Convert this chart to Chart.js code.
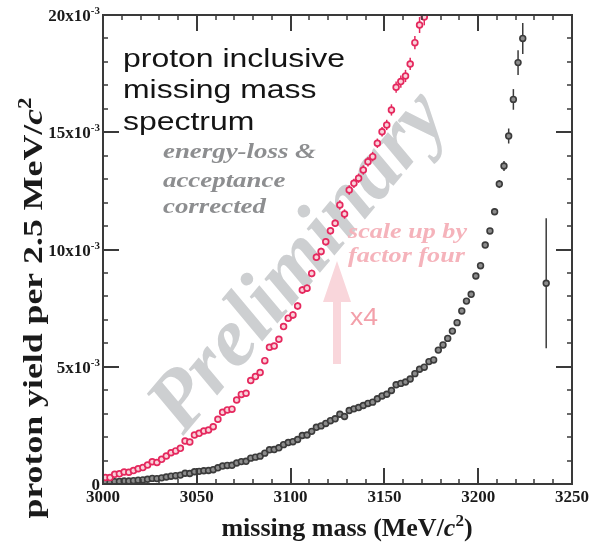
<!DOCTYPE html>
<html>
<head>
<meta charset="utf-8">
<script src="https://cdn.jsdelivr.net/npm/chart.js@4.4.0/dist/chart.umd.min.js"></script>
<style>
  html, body { margin: 0; padding: 0; background: #fff; }
</style>
</head>
<body>
<canvas id="spectrum" width="591" height="546"></canvas>
<script>
// missing mass bin centres (MeV/c^2), 2.5 MeV/c^2 bins
const massBins = [
  3001.25, 3003.75, 3006.25, 3008.75, 3011.25, 3013.75, 3016.25, 3018.75, 3021.25, 3023.75,
  3026.25, 3028.75, 3031.25, 3033.75, 3036.25, 3038.75, 3041.25, 3043.75, 3046.25, 3048.75,
  3051.25, 3053.75, 3056.25, 3058.75, 3061.25, 3063.75, 3066.25, 3068.75, 3071.25, 3073.75,
  3076.25, 3078.75, 3081.25, 3083.75, 3086.25, 3088.75, 3091.25, 3093.75, 3096.25, 3098.75,
  3101.25, 3103.75, 3106.25, 3108.75, 3111.25, 3113.75, 3116.25, 3118.75, 3121.25, 3123.75,
  3126.25, 3128.75, 3131.25, 3133.75, 3136.25, 3138.75, 3141.25, 3143.75, 3146.25, 3148.75,
  3151.25, 3153.75, 3156.25, 3158.75, 3161.25, 3163.75, 3166.25, 3168.75, 3171.25, 3173.75,
  3176.25, 3178.75, 3181.25, 3183.75, 3186.25, 3188.75, 3191.25, 3193.75, 3196.25, 3198.75,
  3201.25, 3203.75, 3206.25, 3208.75, 3211.25, 3213.75, 3216.25, 3218.75, 3221.25, 3223.75
];

// proton yield per bin, in units of 10^-3
const yieldE3 = [
  0.070, 0.068, 0.103, 0.108, 0.128, 0.125, 0.143, 0.163, 0.175, 0.203,
  0.238, 0.230, 0.263, 0.298, 0.333, 0.353, 0.380, 0.458, 0.448, 0.523,
  0.540, 0.565, 0.575, 0.610, 0.690, 0.765, 0.790, 0.798, 0.895, 0.955,
  0.968, 1.103, 1.145, 1.188, 1.315, 1.458, 1.470, 1.543, 1.678, 1.768,
  1.803, 1.898, 2.068, 2.088, 2.245, 2.418, 2.478, 2.583, 2.700, 2.780,
  2.975, 2.878, 3.135, 3.205, 3.260, 3.348, 3.435, 3.490, 3.633, 3.755,
  3.828, 3.988, 4.230, 4.290, 4.350, 4.478, 4.705, 4.893, 4.980, 5.220,
  5.290, 5.710, 5.930, 6.210, 6.520, 6.880, 7.380, 7.800, 8.090, 8.870,
  9.310, 10.190, 10.790, 11.610, 12.790, 13.560, 14.840, 16.400, 17.970, 19.000
];

// statistical errors, same units
const errorE3 = [
  0.010, 0.010, 0.010, 0.010, 0.010, 0.010, 0.010, 0.010, 0.010, 0.010,
  0.015, 0.015, 0.015, 0.015, 0.015, 0.015, 0.015, 0.015, 0.015, 0.015,
  0.020, 0.020, 0.020, 0.020, 0.020, 0.020, 0.020, 0.020, 0.020, 0.020,
  0.030, 0.030, 0.030, 0.030, 0.030, 0.030, 0.030, 0.030, 0.030, 0.030,
  0.040, 0.040, 0.040, 0.040, 0.040, 0.040, 0.040, 0.040, 0.040, 0.040,
  0.050, 0.050, 0.050, 0.050, 0.050, 0.050, 0.050, 0.050, 0.050, 0.050,
  0.055, 0.060, 0.060, 0.065, 0.065, 0.065, 0.070, 0.085, 0.090, 0.090,
  0.090, 0.095, 0.095, 0.100, 0.100, 0.100, 0.110, 0.110, 0.110, 0.120,
  0.120, 0.130, 0.130, 0.140, 0.170, 0.210, 0.320, 0.440, 0.530, 0.660
];

// last, sparsely filled bin
const edgeMass = [3236.25];
const edgeYieldE3 = [8.56];
const edgeErrorE3 = [2.77];

const SCALE = 4; // the pink points are the same yield x4

const xTicks = [3000, 3050, 3100, 3150, 3200, 3250];
const yTicks = [0, 5, 10, 15, 20];
const xMinorStep = 10;
const yMinorStep = 1;

const toPts = (xs, ys) => xs.map((x, i) => ({ x: x, y: ys[i] }));

const SERIF = '"Liberation Serif", "Times New Roman", serif';
const SANS = '"Liberation Sans", Arial, sans-serif';
const AXIS = '#3a3a3a';

function runsWidth(ctx, parts) {
  let w = 0;
  parts.forEach(p => { ctx.font = p[1]; w += ctx.measureText(p[0]).width; });
  return w;
}

// draws a row of text pieces with their own fonts: [text, font, dy]
function drawRuns(ctx, parts, x, y, align) {
  const w = runsWidth(ctx, parts);
  let cx = align === 'right' ? x - w : (align === 'center' ? x - w / 2 : x);
  ctx.textAlign = 'left';
  ctx.textBaseline = 'alphabetic';
  parts.forEach(p => {
    ctx.font = p[1];
    ctx.fillText(p[0], cx, y + (p[2] || 0));
    cx += ctx.measureText(p[0]).width;
  });
}

// block of lines stretched sideways so the first line gets the given width
function drawBlock(ctx, lines, font, color, x, baselines, firstWidth) {
  ctx.save();
  ctx.font = font;
  ctx.fillStyle = color;
  ctx.textAlign = 'left';
  ctx.textBaseline = 'alphabetic';
  const k = firstWidth / ctx.measureText(lines[0]).width;
  lines.forEach((t, i) => {
    ctx.save();
    ctx.translate(x, baselines[i]);
    ctx.scale(k, 1);
    ctx.fillText(t, 0, 0);
    ctx.restore();
  });
  ctx.restore();
}

const decor = {
  id: 'decor',
  beforeDatasetsDraw(chart) {
    const ctx = chart.ctx;
    const area = chart.chartArea;
    const ys = chart.scales.y;

    ctx.save();
    ctx.beginPath();
    ctx.rect(area.left, area.top, area.right - area.left, area.bottom - area.top);
    ctx.clip();

    // watermark
    ctx.save();
    ctx.translate(300, 263);
    ctx.rotate(-50 * Math.PI / 180);
    ctx.font = 'italic bold 84px ' + SERIF;
    ctx.fillStyle = '#cdcfd1';
    ctx.textAlign = 'center';
    ctx.textBaseline = 'middle';
    ctx.fillText('Preliminary', 0, 0);
    ctx.restore();

    // text annotations
    drawBlock(ctx, ['proton inclusive', 'missing mass', 'spectrum'],
      '25px ' + SANS, '#141414', 123, [67, 98, 130], 222);
    drawBlock(ctx, ['energy-loss &', 'acceptance', 'corrected'],
      'italic bold 22px ' + SERIF, '#8d8e90', 163, [158, 187, 213], 153);
    drawBlock(ctx, ['scale up by', 'factor four'],
      'italic bold 22px ' + SERIF, '#f5b3bb', 348, [238, 262], 119);
    drawBlock(ctx, ['x4'], '24px ' + SANS, '#f3a0aa', 350, [325], 28);

    // up arrow
    ctx.fillStyle = '#f9d6db';
    ctx.beginPath();
    ctx.moveTo(333, 364);
    ctx.lineTo(333, 302);
    ctx.lineTo(323, 302);
    ctx.lineTo(337, 261);
    ctx.lineTo(351, 302);
    ctx.lineTo(341, 302);
    ctx.lineTo(341, 364);
    ctx.closePath();
    ctx.fill();

    // error bars under the markers
    chart.data.datasets.forEach((ds, i) => {
      const meta = chart.getDatasetMeta(i);
      ctx.strokeStyle = ds.pointBorderColor;
      ctx.lineWidth = 1.5;
      meta.data.forEach((el, j) => {
        const v = ds.data[j].y, e = ds.errors[j];
        const y1 = ys.getPixelForValue(v - e), y2 = ys.getPixelForValue(v + e);
        ctx.beginPath();
        ctx.moveTo(el.x, y1);
        ctx.lineTo(el.x, y2);
        ctx.stroke();
      });
    });
    ctx.restore();
  },
  afterDraw(chart) {
    const ctx = chart.ctx;
    const a = chart.chartArea;
    const xs = chart.scales.x, ys = chart.scales.y;
    ctx.save();
    ctx.strokeStyle = AXIS;
    ctx.fillStyle = '#1a1a1a';

    // ticks pointing inwards on all four sides
    const MAJOR = 16, MINOR = 5;
    for (let v = xs.min; v <= xs.max + 1e-9; v += xMinorStep) {
      const px = Math.round(xs.getPixelForValue(v));
      const len = xTicks.includes(v) ? MAJOR : MINOR;
      ctx.lineWidth = len === MAJOR ? 2 : 1.5;
      ctx.beginPath();
      ctx.moveTo(px, a.bottom); ctx.lineTo(px, a.bottom - len);
      ctx.moveTo(px, a.top); ctx.lineTo(px, a.top + len);
      ctx.stroke();
    }
    for (let v = ys.min; v <= ys.max + 1e-9; v += yMinorStep) {
      const py = Math.round(ys.getPixelForValue(v));
      const len = yTicks.includes(v) ? MAJOR : MINOR;
      ctx.lineWidth = len === MAJOR ? 2 : 1.5;
      ctx.beginPath();
      ctx.moveTo(a.left, py); ctx.lineTo(a.left + len, py);
      ctx.moveTo(a.right, py); ctx.lineTo(a.right - len, py);
      ctx.stroke();
    }

    // frame
    ctx.lineWidth = 2;
    ctx.strokeRect(a.left, a.top, a.right - a.left, a.bottom - a.top);

    // tick labels
    const tickFont = 'bold 17px ' + SERIF;
    const supFont = 'bold 11px ' + SERIF;
    xTicks.forEach(v => {
      drawRuns(ctx, [[String(v), tickFont]], xs.getPixelForValue(v), 502, 'center');
    });
    yTicks.forEach(v => {
      const py = ys.getPixelForValue(v);
      const parts = v === 0 ? [['0', tickFont]] : [[v + 'x10', tickFont], ['-3', supFont, -7]];
      drawRuns(ctx, parts, a.left - 3, py + 6, 'right');
    });

    // axis titles
    const tFont = 'bold 26px ' + SERIF;
    const tItal = 'italic bold 26px ' + SERIF;
    const tSup = 'bold 17px ' + SERIF;
    drawRuns(ctx, [['missing mass (MeV/', tFont], ['c', tItal], ['2', tSup, -10], [')', tFont]],
      347, 536, 'center');

    const yFont = 'bold 28px ' + SERIF;
    const yParts = [['proton yield per 2.5 MeV/', yFont], ['c', 'italic ' + yFont],
      ['2', 'bold 18px ' + SERIF, -11]];
    const yLen = 421;
    ctx.save();
    ctx.translate(42, 308);
    ctx.rotate(-Math.PI / 2);
    const k = yLen / runsWidth(ctx, yParts);
    ctx.scale(k, 1);
    drawRuns(ctx, yParts, 0, 0, 'center');
    ctx.restore();
    ctx.restore();
  }
};

new Chart(document.getElementById('spectrum'), {
  type: 'scatter',
  data: {
    datasets: [
      {
        label: 'yield x4',
        data: toPts(massBins, yieldE3.map(v => v * SCALE)),
        errors: errorE3.map(e => e * SCALE),
        pointRadius: 2.9,
        pointBorderWidth: 1.7,
        pointBackgroundColor: '#f8d3da',
        pointBorderColor: '#e5285e'
      },
      {
        label: 'yield',
        data: toPts(massBins, yieldE3),
        errors: errorE3,
        pointRadius: 2.9,
        pointBorderWidth: 1.6,
        pointBackgroundColor: '#8c8c8c',
        pointBorderColor: '#3b3b3b'
      },
      {
        label: 'last bin',
        data: toPts(edgeMass, edgeYieldE3),
        errors: edgeErrorE3,
        pointRadius: 2.9,
        pointBorderWidth: 1.6,
        pointBackgroundColor: '#8c8c8c',
        pointBorderColor: '#3b3b3b'
      }
    ]
  },
  options: {
    responsive: false,
    animation: false,
    devicePixelRatio: 1,
    events: [],
    layout: { padding: { left: 103, right: 19, top: 15, bottom: 62 } },
    plugins: { legend: { display: false }, tooltip: { enabled: false } },
    scales: {
      x: { type: 'linear', min: 3000, max: 3250, display: false },
      y: { type: 'linear', min: 0, max: 20, display: false }
    }
  },
  plugins: [decor]
});
</script>
</body>
</html>
